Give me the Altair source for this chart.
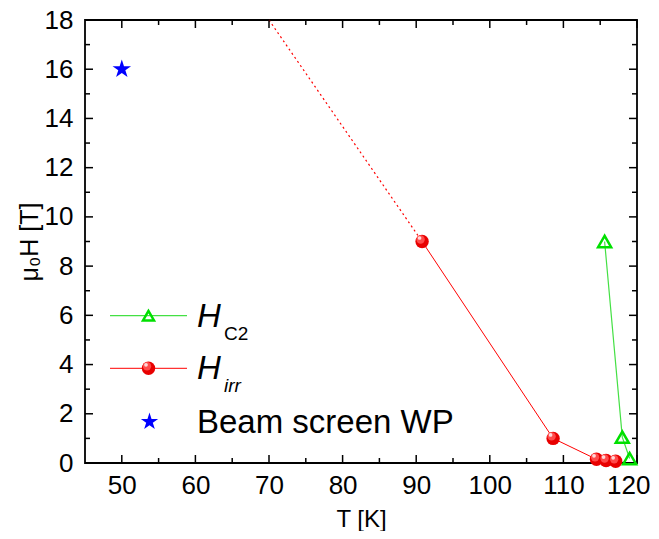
import altair as alt
import pandas as pd

# ---- data ----
hc2_T = [115.6, 118.0, 119.0]
hc2_H = [9.0, 1.05, 0.18]
hirr_T = [90.8, 108.6, 114.5, 115.8, 117.1]
hirr_H = [9.0, 1.0, 0.15, 0.10, 0.07]
ext_T = [70.0, 90.8]
ext_H = [18.0, 9.0]
wp_T = [50.0]
wp_H = [16.0]

x_major = [50, 60, 70, 80, 90, 100, 110, 120]
x_minor = [55, 65, 75, 85, 95, 105, 115]
y_major = [0, 2, 4, 6, 8, 10, 12, 14, 16, 18]
y_minor = [1, 3, 5, 7, 9, 11, 13, 15, 17]

leg_main = ["H", "H", "Beam screen WP"]
leg_sub = ["C2", "irr"]

W, H = 552, 443
FONT = "Liberation Sans"
RED = "#ff0000"
GREEN_LINE = "#44e044"
GREEN_MK = "#00e000"
BLUE = "#0000ff"
STAR = ("M0,-1L0.2245,-0.309L0.9511,-0.309L0.3633,0.118L0.5878,0.809L0,0.382"
        "L-0.5878,0.809L-0.3633,0.118L-0.9511,-0.309L-0.2245,-0.309Z")

xs = alt.Scale(domain=[45, 120], range=[0, W], nice=False, zero=False, padding=0)
ys = alt.Scale(domain=[0, 18], range=[H, 0], nice=False, zero=False, padding=0)

hc2 = pd.DataFrame({"T": hc2_T, "H": hc2_H})
hirr = pd.DataFrame({"T": hirr_T, "H": hirr_H})
ext = pd.DataFrame({"T": ext_T, "H": ext_H})
wp = pd.DataFrame({"T": wp_T, "H": wp_H})

x_axis = alt.Axis(values=x_major, title="T [K]", ticks=False, domain=False, grid=False,
                  labelFlush=1, labelFlushOffset=13, labelOverlap=False,
                  labelFontSize=26, labelFont=FONT, labelColor="black", labelPadding=9,
                  titleFontSize=24, titleFont=FONT, titleFontWeight="normal", titleColor="black",
                  titlePadding=9)
y_axis = alt.Axis(values=y_major, title="μ₀H [T]", ticks=False, domain=False, grid=False,
                  labelFlush=False, labelOverlap=False,
                  labelFontSize=26, labelFont=FONT, labelColor="black", labelPadding=12,
                  titleFontSize=25, titleFont=FONT, titleFontWeight="normal", titleColor="black",
                  titlePadding=2)


def X():
    return alt.X("T:Q", scale=xs, axis=x_axis)


def Y():
    return alt.Y("H:Q", scale=ys, axis=y_axis)


ext_line = alt.Chart(ext).mark_line(color=RED, strokeWidth=1.2, strokeDash=[2, 3]).encode(x=X(), y=Y())
hirr_line = alt.Chart(hirr).mark_line(color=RED, strokeWidth=1).encode(x=X(), y=Y(), order="T:Q")
hc2_line = alt.Chart(hc2).mark_line(color=GREEN_LINE, strokeWidth=1.2).encode(x=X(), y=Y(), order="T:Q")


def sphere_layers(data, xenc, yenc):
    base = alt.Chart(data).mark_point(shape="circle", filled=True, color="#e80000", strokeWidth=0,
                                      size=180, opacity=1).encode(x=xenc, y=yenc)
    mid = alt.Chart(data).mark_point(shape="circle", filled=True, color="#ff4a4a", strokeWidth=0,
                                     size=70, opacity=1, xOffset=-1.5, yOffset=-2).encode(x=xenc, y=yenc)
    hi = alt.Chart(data).mark_point(shape="circle", filled=True, color="#ffd8d8", strokeWidth=0,
                                    size=14, opacity=1, xOffset=-2.5, yOffset=-3.5).encode(x=xenc, y=yenc)
    return [base, mid, hi]


hirr_pts = sphere_layers(hirr, X(), Y())
hc2_pts = alt.Chart(hc2).mark_point(shape="triangle-up", filled=False, stroke=GREEN_MK, strokeWidth=2.5,
                                     size=170, opacity=1).encode(x=X(), y=Y())
wp_pts = alt.Chart(wp).mark_point(shape=STAR, filled=True, color=BLUE, size=380, opacity=1,
                                  strokeWidth=0).encode(x=X(), y=Y())


# inward ticks on all four sides
def xticks(vals, length):
    d = pd.DataFrame({"T": vals})
    bot = alt.Chart(d).mark_rule(color="black", strokeWidth=1.5).encode(
        x=X(), y=alt.value(H), y2=alt.value(H - length))
    top = alt.Chart(d).mark_rule(color="black", strokeWidth=1.5).encode(
        x=X(), y=alt.value(0), y2=alt.value(length))
    return [bot, top]


def yticks(vals, length):
    d = pd.DataFrame({"H": vals})
    left = alt.Chart(d).mark_rule(color="black", strokeWidth=1.5).encode(
        y=Y(), x=alt.value(0), x2=alt.value(length))
    right = alt.Chart(d).mark_rule(color="black", strokeWidth=1.5).encode(
        y=Y(), x=alt.value(W), x2=alt.value(W - length))
    return [left, right]


ticks = xticks(x_major, 8) + xticks(x_minor, 5) + yticks(y_major, 8) + yticks(y_minor, 5)

# ---- legend ----
one = pd.DataFrame({"k": [0]})
g_y, r_y, s_y = 295.7, 348.3, 401.7
lx1, lx2, lmx = 25, 102, 63.5
leg = [
    alt.Chart(one).mark_rule(color=GREEN_LINE, strokeWidth=1.2).encode(
        x=alt.value(lx1), x2=alt.value(lx2), y=alt.value(g_y)),
    alt.Chart(one).mark_point(shape="triangle-up", filled=False, stroke=GREEN_MK, strokeWidth=2.5,
                              size=120, opacity=1).encode(x=alt.value(lmx), y=alt.value(g_y)),
    alt.Chart(one).mark_rule(color=RED, strokeWidth=1).encode(
        x=alt.value(lx1), x2=alt.value(lx2), y=alt.value(r_y)),
]
leg += sphere_layers(one, alt.value(lmx), alt.value(r_y))
leg.append(alt.Chart(one).mark_point(shape=STAR, filled=True, color=BLUE, size=330, opacity=1,
                                     strokeWidth=0).encode(x=alt.value(lmx + 1), y=alt.value(s_y)))

tx = 112
for txt, yy, italic, sz, dx in [
    (leg_main[0], g_y + 11, True, 33, 0),
    (leg_sub[0], g_y + 24, False, 19, 27),
    (leg_main[1], r_y + 11, True, 33, 0),
    (leg_sub[1], r_y + 24, True, 19, 27),
    (leg_main[2], s_y + 11, False, 33, 0),
]:
    leg.append(alt.Chart(one).mark_text(
        text=txt, font=FONT, fontSize=sz, fontStyle="italic" if italic else "normal",
        align="left", baseline="alphabetic", color="black").encode(
        x=alt.value(tx + dx), y=alt.value(yy)))

chart = alt.layer(ext_line, hirr_line, hc2_line, *ticks, *hirr_pts, hc2_pts, wp_pts, *leg).properties(
    width=W, height=H,
    background="white",
    autosize=alt.AutoSizeParams(type="none"),
    padding={"left": 77, "top": 12, "right": 14, "bottom": 68},
).configure_view(stroke="black", strokeWidth=1.8)

chart.save("out.html", embed_options={"renderer": "svg", "actions": False})
